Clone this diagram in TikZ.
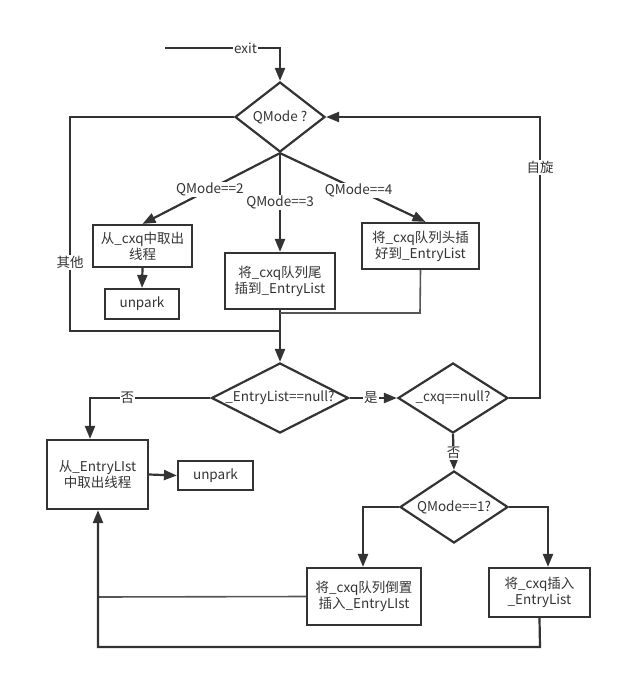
\documentclass[tikz,border=0pt]{standalone}
\usepackage{fontspec}
\setmainfont{Noto Sans CJK SC}
\usetikzlibrary{arrows.meta,shapes.geometric}
\definecolor{ink}{HTML}{333333}
\definecolor{thin}{HTML}{555555}
\begin{document}
\begin{tikzpicture}[x=1pt,y=-1pt,
  font=\fontsize{13.5}{16}\selectfont,
  every node/.style={text=ink},
  box/.style={draw=ink,line width=2.2pt,rectangle,align=center,inner sep=0pt},
  diam/.style={draw=ink,line width=2.2pt,diamond,inner sep=0pt},
  ln/.style={draw=ink,line width=2.2pt},
  thinln/.style={draw=thin,line width=1.6pt},
  arr/.style={ln,-{Triangle[length=13pt,width=10pt]}},
  lbl/.style={fill=white,inner sep=1pt}]
\useasboundingbox (0,0) rectangle (624,678);

% diamonds
\node[diam,minimum width=90pt,minimum height=70pt] (d1) at (280,117) {\makebox[0pt]{QMode ?}};
\node[diam,minimum width=137pt,minimum height=70pt] (d2) at (280,398) {\makebox[0pt]{\_EntryList==null?}};
\node[diam,minimum width=110pt,minimum height=70pt] (d3) at (453,398) {\makebox[0pt]{\_cxq==null?}};
\node[diam,minimum width=108pt,minimum height=72pt] (d4) at (454,507) {\makebox[0pt]{QMode==1?}};

% boxes
\node[box,minimum width=99pt,minimum height=42pt] (b1) at (142.5,246) {从\_cxq中取出\\线程};
\node[box,minimum width=74pt,minimum height=30pt] (u1) at (142,304) {unpark};
\node[box,minimum width=110pt,minimum height=56pt] (b3) at (280,281) {将\_cxq队列尾\\插到\_EntryList};
\node[box,minimum width=117pt,minimum height=46pt] (b4) at (420.5,246) {将\_cxq队列头插\\好到\_EntryList};
\node[box,minimum width=101pt,minimum height=69pt] (b5) at (97.5,474.5) {从\_EntryLIst\\中取出线程};
\node[box,minimum width=75pt,minimum height=29pt] (u2) at (215.5,475.5) {unpark};
\node[box,minimum width=114pt,minimum height=57pt] (b6) at (364,596.5) {将\_cxq队列倒置\\插入\_EntryLIst};
\node[box,minimum width=101pt,minimum height=49pt] (b7) at (539.5,592.5) {将\_cxq插入\\\_EntryList};

% helper coordinates
\coordinate (s) at (165,48);
\coordinate (lt) at (70,117);
\coordinate (lb) at (70,331);
\coordinate (m) at (280,331);
\coordinate (r) at (540,117);
\coordinate (rb) at (540,398);
\coordinate (nl) at (90,398);
\coordinate (q1l) at (363,507);
\coordinate (q1r) at (548,507);
\coordinate (bb) at (540,647);
\coordinate (bl) at (98,647);
\coordinate (ml) at (98,597);
\coordinate (b4c) at (420,313);
\coordinate (b3c) at (280,313);

% exit
\draw[arr] (s) -- node[pos=0.7,lbl]{exit} (d1.north |- s) -- (d1.north);
% other
\draw[ln] (d1.west) -- (lt) -- node[pos=0.68,lbl]{其他} (lb) -- (m);
% branches
\draw[arr] (d1.south) -- node[pos=0.51,lbl]{QMode==2} (b1.north);
\draw[arr] (d1.south) -- node[pos=0.5,lbl]{QMode==3} (b3.north);
\draw[arr] (d1.south) -- node[pos=0.54,lbl]{QMode==4} ([xshift=5pt]b4.north);
\draw[arr] (b1.south) -- (u1.north);
\draw[arr] (b3.south) -- (d2.north);
\draw[thinln] (b4.south) -- (b4c) -- (b3c);
% entry list
\draw[arr] (d2.east) -- node[pos=0.45,lbl]{是} (d3.west);
\draw[arr] (d3.east) -- (rb) -- node[pos=0.82,lbl]{自旋} (r) -- (d1.east);
\draw[arr] (d3.south) -- node[pos=0.53,lbl]{否} (d4.north);
\draw[arr] (d2.west) -- node[pos=0.69,lbl]{否} (nl) -- (nl |- b5.north);
\draw[arr] (b5.east) -- (u2.west);
% qmode 1
\draw[arr] (d4.west) -- (q1l) -- (q1l |- b6.north);
\draw[arr] (d4.east) -- (q1r) -- (q1r |- b7.north);
\draw[thinln] (b6.west) -- (ml);
\draw[arr] (b7.south) -- (bb) -- (bl) -- (bl |- b5.south);
\end{tikzpicture}
\end{document}
